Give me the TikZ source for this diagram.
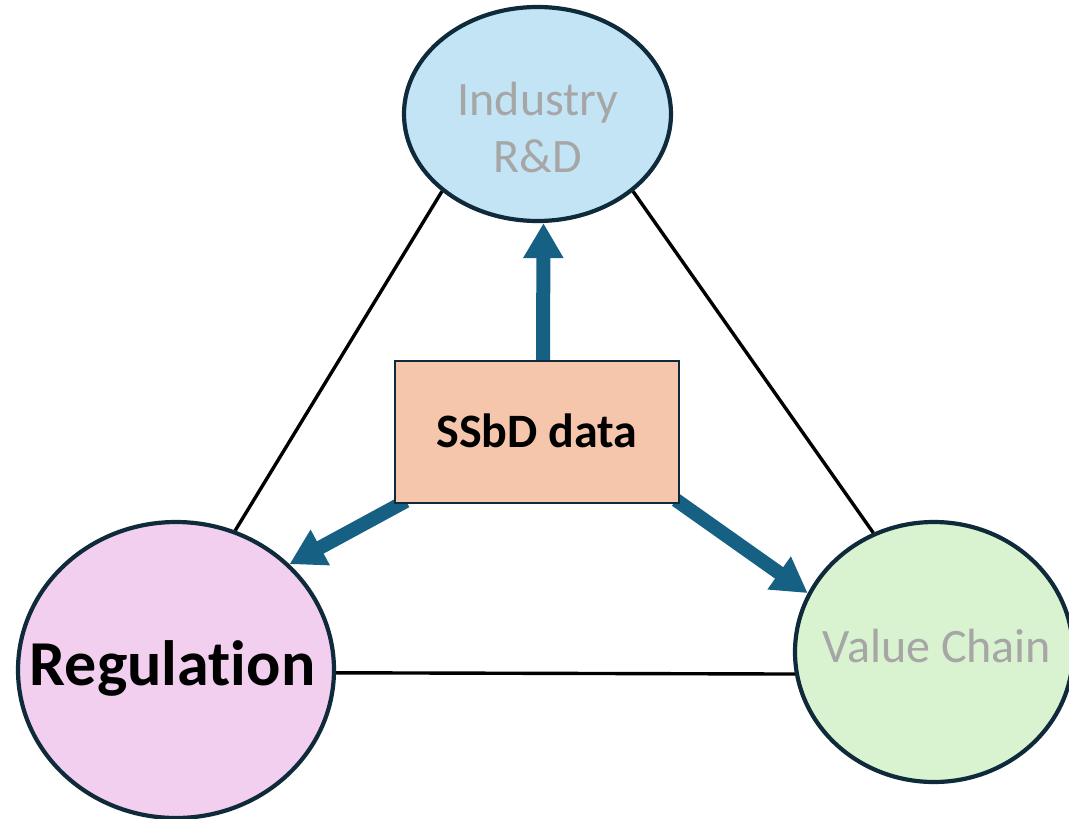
\documentclass[tikz,border=0pt]{standalone}
\usepackage{fontspec}
\setmainfont{Carlito}[Ligatures={NoCommon}]
\usetikzlibrary{shapes.geometric,arrows.meta,backgrounds}
\definecolor{outl}{HTML}{0E2A3B}
\definecolor{arrc}{HTML}{166083}
\definecolor{fillT}{HTML}{C2E4F5}
\definecolor{fillR}{HTML}{F2CFEF}
\definecolor{fillV}{HTML}{D9F2D0}
\definecolor{fillS}{HTML}{F6C6AC}
\definecolor{graytxt}{HTML}{A6A6A6}
\begin{document}
\begin{tikzpicture}[x=1pt,y=-1pt,
  oval/.style={ellipse, draw=outl, line width=4.2pt, inner sep=0pt},
  databox/.style={rectangle, draw=outl, line width=2pt, fill=fillS, inner sep=0pt,
    minimum width=284pt, minimum height=142pt,
    font=\bfseries\fontsize{48}{57}\selectfont, text height=37pt, text depth=7pt},
  graylabel/.style={text=graytxt, font=\fontsize{48}{57}\selectfont, inner sep=0pt},
  link/.style={draw=black, line width=3.4pt},
  flow/.style={draw=arrc, line width=14pt, -{Triangle[length=35pt,width=38pt]}}]
\useasboundingbox (0,0) rectangle (1069,819);

\node[oval, fill=fillT, minimum width=267pt, minimum height=214pt] (top) at (537.5,114) {};
\node[graylabel, align=center] (toptext) at (538,128) {Industry\\R\&D};

\node[oval, fill=fillR, minimum width=316pt, minimum height=296pt] (reg) at (176,670) {};
\node[anchor=base, inner sep=0pt, font=\bfseries\fontsize{64}{70}\selectfont] (regtext) at (172.5,685) {Regulation};

\node[oval, fill=fillV, minimum width=278pt, minimum height=260pt] (vc) at (934,652) {};
\node[graylabel, anchor=base] (vctext) at (937,662) {Value Chain};

\node[databox] (ssbd) at (537,432) {SSbD data};

\draw[link] (top.219) -- (reg.67);
\draw[link] (top.321) -- (vc.117);
\draw[link] (reg.359) -- (vc.189.5);

\begin{scope}[on background layer]
\draw[flow] ([xshift=6pt]ssbd.north) -- ([xshift=6pt]top.south);
\draw[flow] ([shift={(12,-3)}]ssbd.south west) -- (reg.43);
\draw[flow] ([shift={(-4,-4)}]ssbd.south east) -- (vc.155);
\end{scope}
\end{tikzpicture}
\end{document}
